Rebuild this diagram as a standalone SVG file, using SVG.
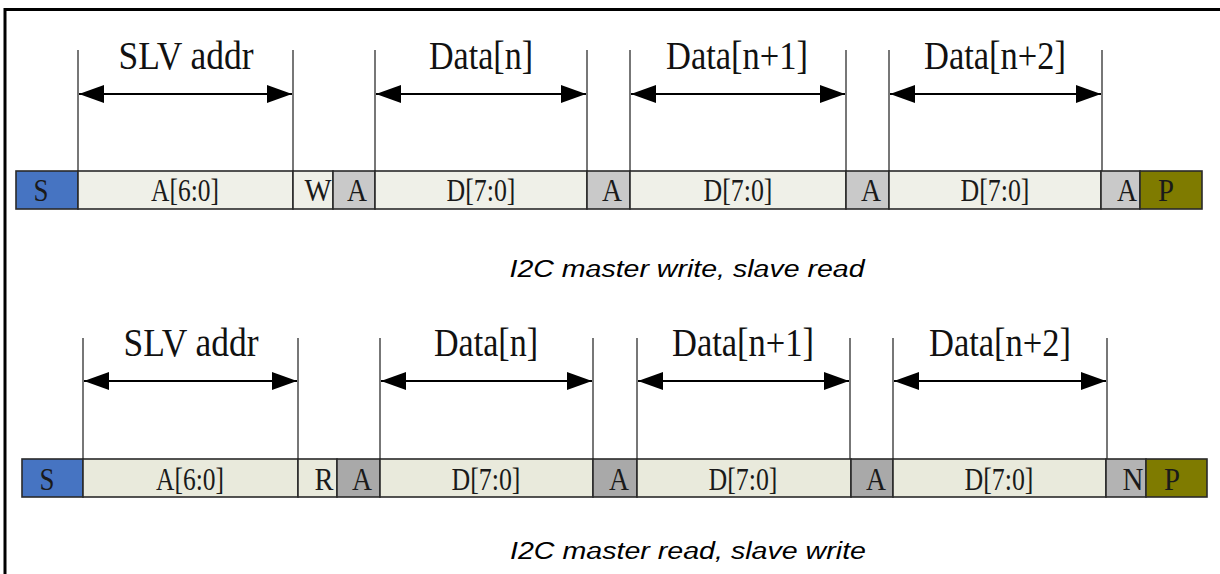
<svg xmlns="http://www.w3.org/2000/svg" width="1220" height="574" viewBox="0 0 1220 574">
<defs>
<marker id="ah" markerUnits="userSpaceOnUse" markerWidth="26" markerHeight="18" refX="25" refY="9" orient="auto-start-reverse">
<path d="M0,0 L25,9 L0,18 Z" fill="#000"/>
</marker>
<style>
.frame{stroke:#000;stroke-width:3;fill:none}
.tick{stroke:#555;stroke-width:1.6}
.arr{stroke:#000;stroke-width:1.8;marker-start:url(#ah);marker-end:url(#ah)}
.lbl{font-family:"Liberation Serif","Times New Roman",serif;font-size:40px;fill:#111;text-anchor:middle}
.cell{stroke:#2a2a2a;stroke-width:1.6}
.ct{font-family:"Liberation Serif","Times New Roman",serif;font-size:31px;fill:#1a1a1a;text-anchor:middle}
.s{fill:#4674c2}
.d1{fill:#eff0e8}
.d2{fill:#e9eadc}
.a1{fill:#c9c9c9}
.a2{fill:#a9a9a9}
.n{fill:#b3b3b3}
.p{fill:#7f7b00}
.cap{font-family:"Liberation Sans",Arial,sans-serif;font-style:italic;font-size:23px;fill:#000;text-anchor:middle}
</style>
</defs>
<rect width="1220" height="574" fill="#fff"/>
<path class="frame" d="M5,574 L5,9.5 L1220,9.5"/>

<g id="connectors">
<line class="tick" x1="78" y1="50" x2="78" y2="171"/>
<line class="tick" x1="293" y1="50" x2="293" y2="171"/>
<line class="tick" x1="375" y1="50" x2="375" y2="171"/>
<line class="tick" x1="587" y1="50" x2="587" y2="171"/>
<line class="tick" x1="630" y1="50" x2="630" y2="171"/>
<line class="tick" x1="846" y1="50" x2="846" y2="171"/>
<line class="tick" x1="889" y1="50" x2="889" y2="171"/>
<line class="tick" x1="1102" y1="50" x2="1102" y2="171"/>
<line class="arr" x1="79" y1="94" x2="292" y2="94"/>
<line class="arr" x1="376" y1="94" x2="586" y2="94"/>
<line class="arr" x1="631" y1="94" x2="845" y2="94"/>
<line class="arr" x1="890" y1="94" x2="1101" y2="94"/>
<line class="tick" x1="83" y1="338" x2="83" y2="460"/>
<line class="tick" x1="298" y1="338" x2="298" y2="460"/>
<line class="tick" x1="380" y1="338" x2="380" y2="460"/>
<line class="tick" x1="593" y1="338" x2="593" y2="460"/>
<line class="tick" x1="637" y1="338" x2="637" y2="460"/>
<line class="tick" x1="850" y1="338" x2="850" y2="460"/>
<line class="tick" x1="893" y1="338" x2="893" y2="460"/>
<line class="tick" x1="1107" y1="338" x2="1107" y2="460"/>
<line class="arr" x1="84" y1="381" x2="297" y2="381"/>
<line class="arr" x1="381" y1="381" x2="592" y2="381"/>
<line class="arr" x1="638" y1="381" x2="849" y2="381"/>
<line class="arr" x1="894" y1="381" x2="1106" y2="381"/>
</g>

<g id="labels-top">
<text class="lbl" x="186" y="69" textLength="135" lengthAdjust="spacingAndGlyphs">SLV addr</text>
<text class="lbl" x="481" y="69" textLength="104" lengthAdjust="spacingAndGlyphs">Data[n]</text>
<text class="lbl" x="737" y="69" textLength="142" lengthAdjust="spacingAndGlyphs">Data[n+1]</text>
<text class="lbl" x="995" y="69" textLength="142" lengthAdjust="spacingAndGlyphs">Data[n+2]</text>
</g>
<g id="labels-bottom">
<text class="lbl" x="191" y="356" textLength="135" lengthAdjust="spacingAndGlyphs">SLV addr</text>
<text class="lbl" x="486" y="356" textLength="104" lengthAdjust="spacingAndGlyphs">Data[n]</text>
<text class="lbl" x="743" y="356" textLength="142" lengthAdjust="spacingAndGlyphs">Data[n+1]</text>
<text class="lbl" x="1000" y="356" textLength="142" lengthAdjust="spacingAndGlyphs">Data[n+2]</text>
</g>

<g id="row-write">
<g id="w-S"><rect class="cell s" x="16" y="171" width="62" height="38"/><text class="ct" x="41" y="201" textLength="15" lengthAdjust="spacingAndGlyphs">S</text></g>
<g id="w-A60"><rect class="cell d1" x="78" y="171" width="215" height="38"/><text class="ct" x="185" y="201" textLength="68" lengthAdjust="spacingAndGlyphs">A[6:0]</text></g>
<g id="w-W"><rect class="cell d1" x="293" y="171" width="40" height="38"/><text class="ct" x="318" y="201" textLength="27" lengthAdjust="spacingAndGlyphs">W</text></g>
<g id="w-A1"><rect class="cell a1" x="333" y="171" width="42" height="38"/><text class="ct" x="357" y="201" textLength="20" lengthAdjust="spacingAndGlyphs">A</text></g>
<g id="w-D1"><rect class="cell d1" x="375" y="171" width="212" height="38"/><text class="ct" x="481" y="201" textLength="69" lengthAdjust="spacingAndGlyphs">D[7:0]</text></g>
<g id="w-A2"><rect class="cell a1" x="587" y="171" width="43" height="38"/><text class="ct" x="612" y="201" textLength="20" lengthAdjust="spacingAndGlyphs">A</text></g>
<g id="w-D2"><rect class="cell d1" x="630" y="171" width="216" height="38"/><text class="ct" x="738" y="201" textLength="69" lengthAdjust="spacingAndGlyphs">D[7:0]</text></g>
<g id="w-A3"><rect class="cell a1" x="846" y="171" width="43" height="38"/><text class="ct" x="871" y="201" textLength="20" lengthAdjust="spacingAndGlyphs">A</text></g>
<g id="w-D3"><rect class="cell d1" x="889" y="171" width="212" height="38"/><text class="ct" x="995" y="201" textLength="69" lengthAdjust="spacingAndGlyphs">D[7:0]</text></g>
<g id="w-A4"><rect class="cell a1" x="1101" y="171" width="39" height="38"/><text class="ct" x="1127" y="201" textLength="20" lengthAdjust="spacingAndGlyphs">A</text></g>
<g id="w-P"><rect class="cell p" x="1140" y="171" width="62" height="38"/><text class="ct" x="1166" y="201" textLength="16" lengthAdjust="spacingAndGlyphs">P</text></g>
</g>
<text id="cap-write" class="cap" x="687" y="277" textLength="355" lengthAdjust="spacingAndGlyphs">I2C master write, slave read</text>

<g id="row-read">
<g id="r-S"><rect class="cell s" x="22" y="459" width="61" height="38"/><text class="ct" x="47" y="490" textLength="15" lengthAdjust="spacingAndGlyphs">S</text></g>
<g id="r-A60"><rect class="cell d2" x="83" y="459" width="215" height="38"/><text class="ct" x="190" y="490" textLength="68" lengthAdjust="spacingAndGlyphs">A[6:0]</text></g>
<g id="r-R"><rect class="cell d2" x="298" y="459" width="39" height="38"/><text class="ct" x="324" y="490" textLength="19" lengthAdjust="spacingAndGlyphs">R</text></g>
<g id="r-A1"><rect class="cell a2" x="337" y="459" width="43" height="38"/><text class="ct" x="362" y="490" textLength="20" lengthAdjust="spacingAndGlyphs">A</text></g>
<g id="r-D1"><rect class="cell d2" x="380" y="459" width="213" height="38"/><text class="ct" x="486" y="490" textLength="69" lengthAdjust="spacingAndGlyphs">D[7:0]</text></g>
<g id="r-A2"><rect class="cell a2" x="593" y="459" width="44" height="38"/><text class="ct" x="619" y="490" textLength="20" lengthAdjust="spacingAndGlyphs">A</text></g>
<g id="r-D2"><rect class="cell d2" x="637" y="459" width="214" height="38"/><text class="ct" x="743" y="490" textLength="69" lengthAdjust="spacingAndGlyphs">D[7:0]</text></g>
<g id="r-A3"><rect class="cell a2" x="851" y="459" width="42" height="38"/><text class="ct" x="876" y="490" textLength="20" lengthAdjust="spacingAndGlyphs">A</text></g>
<g id="r-D3"><rect class="cell d2" x="893" y="459" width="213" height="38"/><text class="ct" x="999" y="490" textLength="69" lengthAdjust="spacingAndGlyphs">D[7:0]</text></g>
<g id="r-N"><rect class="cell n" x="1106" y="459" width="40" height="38"/><text class="ct" x="1133" y="490" textLength="21" lengthAdjust="spacingAndGlyphs">N</text></g>
<g id="r-P"><rect class="cell p" x="1146" y="459" width="61" height="38"/><text class="ct" x="1172" y="490" textLength="16" lengthAdjust="spacingAndGlyphs">P</text></g>
</g>
<text id="cap-read" class="cap" x="688" y="559" textLength="356" lengthAdjust="spacingAndGlyphs">I2C master read, slave write</text>
</svg>
